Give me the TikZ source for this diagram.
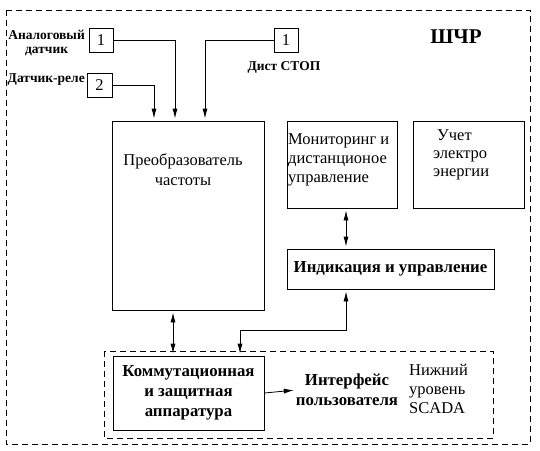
\documentclass[tikz,border=0pt]{standalone}
\usepackage{fontspec}
\setmainfont{Liberation Serif}
\usetikzlibrary{arrows.meta,calc}
\tikzset{
  box/.style={draw,line width=0.8pt,inner sep=0pt},
  arr/.style={line width=0.8pt,-{Latex[length=10pt,width=5pt]},shorten >=2pt},
  dbl/.style={line width=0.8pt,{Latex[length=10pt,width=5pt]}-{Latex[length=10pt,width=5pt]},shorten >=2pt,shorten <=2pt},
  dsh/.style={line width=0.8pt,dash pattern=on 6pt off 4pt},
  txt/.style={font=\fontsize{16.5}{19}\selectfont,inner sep=0pt,align=center},
  btxt/.style={font=\bfseries\fontsize{16.8}{20}\selectfont,inner sep=0pt,align=center},
  stxt/.style={font=\bfseries\fontsize{13.5}{14.5}\selectfont,inner sep=0pt},
}
\begin{document}
\begin{tikzpicture}[x=1pt,y=-1pt]
\useasboundingbox (0,0) rectangle (540,450);
\fill[white] (0,0) rectangle (540,450);
% outer and inner dashed frames
\draw[dsh] (6,10) rectangle (530,444);
\draw[dsh] (104,351) rectangle (493,438);
\node[font=\bfseries\fontsize{21}{24}\selectfont,inner sep=0pt] (shchr) at (456,37) {ШЧР};
% sensors
\node[box,txt,minimum width=24pt,minimum height=24pt] (a1) at (101,40) {1};
\node[box,txt,minimum width=25pt,minimum height=24pt] (a2) at (99.5,85) {2};
\node[box,txt,minimum width=24pt,minimum height=24pt] (d1) at (286,40) {1};
\node[stxt,anchor=east,align=center] (la1) at (85,43) {Аналоговый\\датчик};
\node[stxt,anchor=east] (la2) at (85,80) {Датчик-реле};
\node[stxt] (ld1) at (284,67) {Дист СТОП};
% main boxes
\node[box,minimum width=152pt,minimum height=189pt] (conv) at (188,215.5) {};
\node[txt] (convt) at (183,170) {Преобразователь\\[1pt]частоты};
\node[box,minimum width=110pt,minimum height=87pt] (mon) at (342,164.5) {};
\node[txt,anchor=west,align=left] (mont) at (288,160) {Мониторинг и\\дистанционое\\управление};
\node[box,minimum width=111pt,minimum height=87pt] (uch) at (468.5,164.5) {};
\node[txt,anchor=west,align=left,font=\fontsize{16.5}{18}\selectfont] (ucht) at (433,155) {\hspace{4pt}Учет\\электро\\энергии};
\node[box,btxt,minimum width=207pt,minimum height=40pt] (ind) at (390.5,269) {Индикация и управление};
\node[box,btxt,minimum width=151pt,minimum height=74pt] (com) at (188.5,393) {Коммутационная\\и защитная\\аппаратура};
\node[btxt] (intf) at (347,390) {Интерфейс\\пользователя};
\node[txt,anchor=west,align=left] (scada) at (409,389) {Нижний\\уровень\\SCADA};
% connectors
\draw[arr] (a1.east) -| ([xshift=-13pt]conv.north);
\draw[arr] (a2.east) -| ([xshift=-34pt]conv.north);
\draw[arr] (d1.west) -| ([xshift=17pt]conv.north);
\draw[dbl] ([xshift=4pt]mon.south) -- ([xshift=4pt]mon.south |- ind.north);
\draw[dbl] ([xshift=-15pt]conv.south) -- ([xshift=-15pt]conv.south |- com.north);
\draw[dbl] ([xshift=-44.5pt]ind.south) -- ++(0,41) -| ([xshift=51.5pt]com.north);
\draw[arr] (com.east) -- (intf.west);
\end{tikzpicture}
\end{document}
